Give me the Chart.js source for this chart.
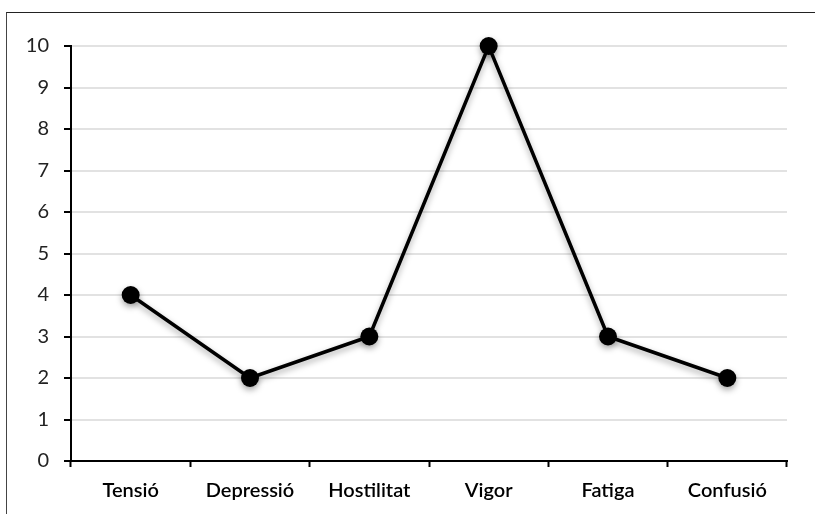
<!DOCTYPE html>
<html>
<head>
<meta charset="utf-8">
<script src="https://cdn.jsdelivr.net/npm/chart.js@4"></script>
<style>
  html, body { margin: 0; padding: 0; background: #fff; }
  #wrap { position: relative; width: 815px; height: 514px; }
  #frame { position: absolute; left: 6px; top: 12px; width: 820px; height: 520px;
           border-top: 1.5px solid #222; border-left: 1.5px solid #444; }
  canvas { position: absolute; left: 0; top: 0; }
</style>
</head>
<body>
<div id="wrap">
  <div id="frame"></div>
  <canvas id="myChart" width="815" height="514"></canvas>
</div>
<script>
var categories = ["Tensió", "Depressió", "Hostilitat", "Vigor", "Fatiga", "Confusió"]
var scores = [4, 2, 3, 10, 3, 2]
var yTicks = [0, 1, 2, 3, 4, 5, 6, 7, 8, 9, 10]

// ombra sota els punts
var shadowPlugin = {
  id: "shadow",
  beforeDatasetDraw: function(chart) {
    var ctx = chart.ctx
    ctx.save()
    ctx.shadowColor = "rgba(0,0,0,0.35)"
    ctx.shadowBlur = 6
    ctx.shadowOffsetY = 3
  },
  afterDatasetDraw: function(chart) {
    chart.ctx.restore()
  }
}

var ctx = document.getElementById("myChart")
var myChart = new Chart(ctx, {
  type: "line",
  data: {
    labels: categories,
    datasets: [{
      data: scores,
      borderColor: "#000",
      borderWidth: 3.5,
      backgroundColor: "#000",
      pointRadius: 9,
      pointHoverRadius: 9,
      pointBackgroundColor: "#000",
      pointBorderWidth: 0,
      lineTension: 0,
      fill: false,
      clip: false
    }]
  },
  options: {
    responsive: false,
    animation: false,
    plugins: { legend: { display: false }, tooltip: { enabled: false } },
    layout: { padding: { top: 46, right: 28, left: 0, bottom: 0 } },
    scales: {
      x: {
        offset: true,
        grid: { offset: true, drawOnChartArea: false, tickLength: 6, tickColor: "#000", tickWidth: 2 },
        border: { color: "#000", width: 2 },
        ticks: { color: "#000", padding: 12, font: { family: "Lato", size: 20, weight: "600" } },
        afterFit: function(scale) { scale.height = 53 }
      },
      y: {
        min: 0,
        max: 10,
        afterBuildTicks: function(scale) { scale.ticks = yTicks.map(v => ({ value: v })) },
        grid: { color: "#e2e2e2", lineWidth: 2, tickLength: 7, tickColor: "#000", tickWidth: 2 },
        border: { color: "#000", width: 2 },
        ticks: { color: "#222", padding: 15, font: { family: "Lato", size: 20 } },
        afterFit: function(scale) { scale.width = 71 }
      }
    }
  },
  plugins: [shadowPlugin]
})
</script>
</body>
</html>
